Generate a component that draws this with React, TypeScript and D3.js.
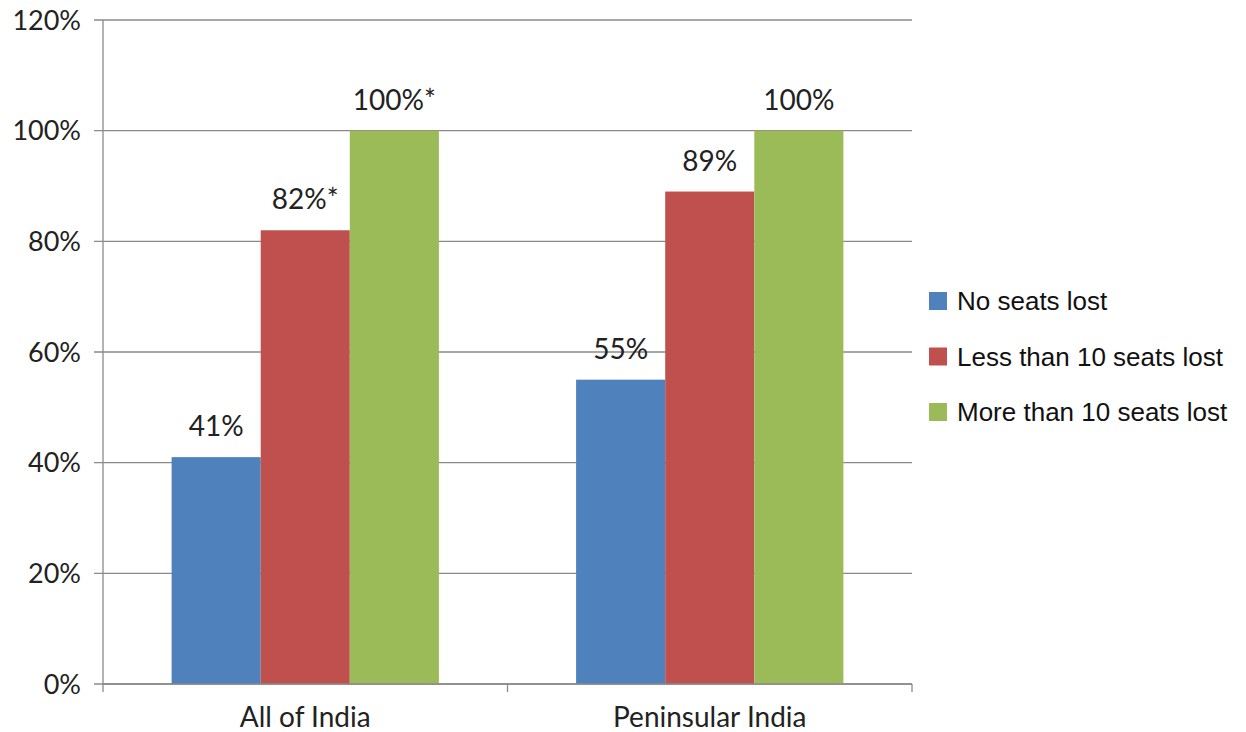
import * as d3 from 'd3'

const categories = ['All of India', 'Peninsular India']
const seriesNames = ['No seats lost', 'Less than 10 seats lost', 'More than 10 seats lost']
const seriesColors = ['#4F81BD', '#C0504D', '#9BBB59']
const noSeatsLost = [0.41, 0.55]
const lessThan10 = [0.82, 0.89]
const moreThan10 = [1.0, 1.0]
const labelText = [
  ['41%', '55%'],
  ['82%*', '89%'],
  ['100%*', '100%'],
]
const yTicks = [0, 0.2, 0.4, 0.6, 0.8, 1.0, 1.2]

const W = 1246
const H = 732
const LEFT = 103
const RIGHT = 912
const TOP = 20
const BOTTOM = 684
const TICK_FONT = 'Lato, "Open Sans", sans-serif'
const GRID = '#8a8a8a'

export default function App() {
  const values = [noSeatsLost, lessThan10, moreThan10]
  const x0 = d3.scaleBand().domain(categories).range([LEFT, RIGHT]).padding(0)
  const x1 = d3
    .scaleBand()
    .domain(seriesNames)
    .range([0, x0.bandwidth()])
    .paddingInner(0)
    .paddingOuter(0.77)
  const y = d3.scaleLinear().domain([0, 1.2]).range([BOTTOM, TOP])
  const fmt = d3.format('.0%')

  return (
    <svg
      width={W}
      height={H}
      style={{ position: 'absolute', left: 0, top: 0, background: '#fff' }}
    >
      {/* grid + y ticks */}
      {yTicks.map((t) => (
        <g key={t}>
          <line x1={LEFT - 9} x2={RIGHT} y1={y(t)} y2={y(t)} stroke={GRID} strokeWidth={1.3} />
          <text
            x={LEFT - 22}
            y={y(t)}
            dy="0.36em"
            textAnchor="end"
            fontFamily={TICK_FONT}
            fontSize={27}
            fill="#222"
          >
            {fmt(t)}
          </text>
        </g>
      ))}
      <line x1={LEFT} x2={LEFT} y1={TOP} y2={BOTTOM} stroke={GRID} strokeWidth={1.3} />

      {/* category ticks */}
      {[LEFT, ...categories.map((c) => (x0(c) as number) + x0.bandwidth())].map((xv, i) => (
        <line key={i} x1={xv} x2={xv} y1={BOTTOM} y2={BOTTOM + 8} stroke={GRID} strokeWidth={1.3} />
      ))}

      {/* bars */}
      {categories.map((c, ci) => (
        <g key={c} transform={`translate(${x0(c)},0)`}>
          {seriesNames.map((s, si) => {
            const v = values[si][ci]
            const bx = x1(s) as number
            return (
              <g key={s}>
                <rect
                  x={bx}
                  y={y(v)}
                  width={x1.bandwidth()}
                  height={y(0) - y(v)}
                  fill={seriesColors[si]}
                />
                <text
                  x={bx + x1.bandwidth() / 2}
                  y={y(v) - 21}
                  textAnchor="middle"
                  fontFamily={TICK_FONT}
                  fontSize={28}
                  fill="#222"
                >
                  {labelText[si][ci]}
                </text>
              </g>
            )
          })}
          <text
            x={x0.bandwidth() / 2}
            y={BOTTOM + 43}
            textAnchor="middle"
            fontFamily={TICK_FONT}
            fontSize={28}
            fill="#222"
          >
            {c}
          </text>
        </g>
      ))}
      <line x1={LEFT} x2={RIGHT} y1={BOTTOM} y2={BOTTOM} stroke={GRID} strokeWidth={1.3} />

      {/* legend */}
      {seriesNames.map((s, i) => (
        <g key={s} transform={`translate(929,${301 + i * 55.5})`}>
          <rect x={0} y={-9} width={18} height={18} fill={seriesColors[i]} />
          <text
            x={28}
            y={0}
            dy="0.36em"
            fontFamily='"Liberation Sans", Arial, sans-serif'
            fontSize={26}
            fill="#111"
          >
            {s}
          </text>
        </g>
      ))}
    </svg>
  )
}
